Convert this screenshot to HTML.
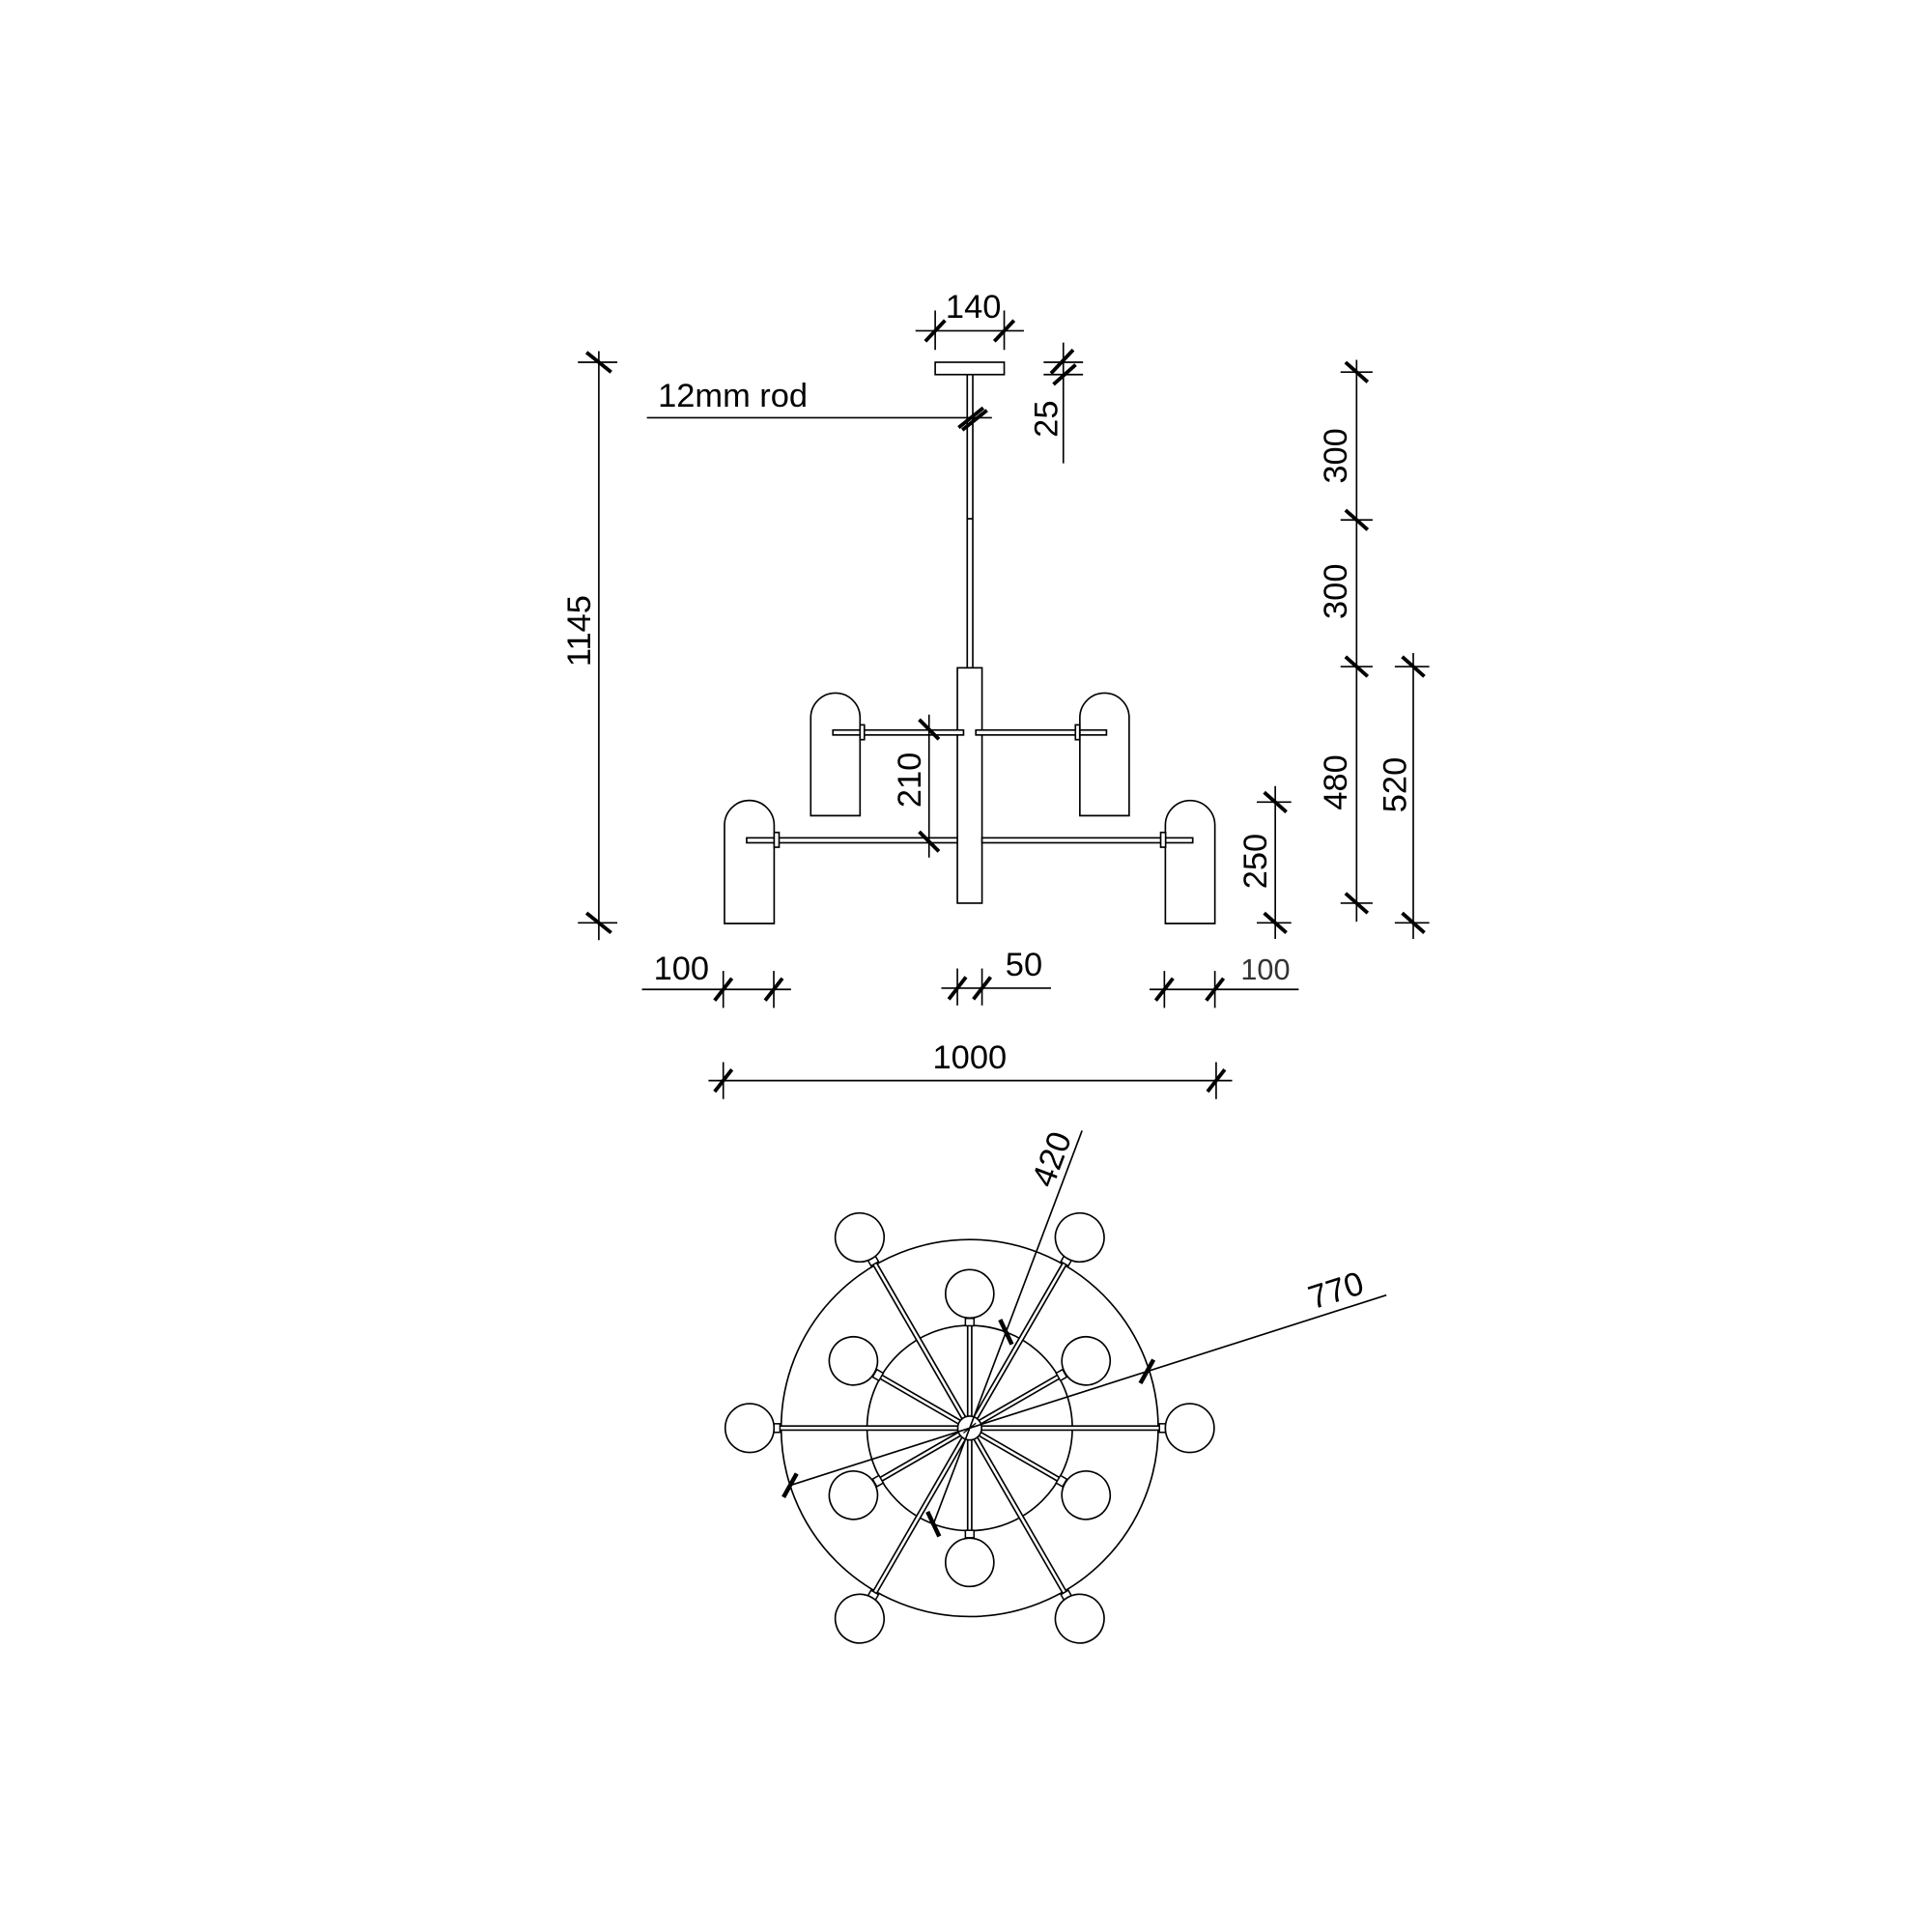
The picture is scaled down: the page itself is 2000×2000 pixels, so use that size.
<!DOCTYPE html>
<html><head><meta charset="utf-8"><style>html,body{margin:0;padding:0;background:#fff}svg{display:block}</style></head>
<body>
<svg xmlns="http://www.w3.org/2000/svg" width="2000" height="2000" viewBox="0 0 1568 1568">
<rect width="1568" height="1568" fill="#fff"/>
<g fill="none" stroke="#000" stroke-width="1.3">
<rect x="759" y="294" width="56" height="10"/>
<line x1="785" y1="304" x2="785" y2="542"/><line x1="789.5" y1="304" x2="789.5" y2="542"/>
<line x1="785" y1="421" x2="789.5" y2="421"/>
<rect x="777" y="542" width="20" height="191" fill="#fff"/>
<rect x="676" y="592.5" width="106" height="4" fill="#fff"/>
<rect x="792" y="592.5" width="106" height="4" fill="#fff"/>
<rect x="606" y="680" width="171" height="4" fill="#fff"/>
<rect x="797" y="680" width="171" height="4" fill="#fff"/>
<path d="M658 662 V582.5 A20 20 0 0 1 698 582.5 V662 Z"/>
<path d="M876.4 662 V582.5 A20 20 0 0 1 916.4 582.5 V662 Z"/>
<path d="M588 749.5 V669.8 A20.15 20.15 0 0 1 628.3 669.8 V749.5 Z"/>
<path d="M945.8 749.5 V669.8 A20.1 20.1 0 0 1 986 669.8 V749.5 Z"/>
<rect x="698" y="588.3" width="3.5" height="12" fill="#fff"/>
<rect x="872.8" y="588.3" width="3.5" height="12" fill="#fff"/>
<rect x="628.3" y="675.6" width="4" height="12" fill="#fff"/>
<rect x="942" y="675.6" width="4" height="12" fill="#fff"/>

<line x1="486" y1="285" x2="486" y2="763"/>
<line x1="469" y1="294" x2="501" y2="294"/><line x1="469" y1="749" x2="501" y2="749"/>
<line x1="525" y1="339" x2="805" y2="339"/>
<line x1="743" y1="268.5" x2="831" y2="268.5"/>
<line x1="759" y1="252" x2="759" y2="284"/><line x1="815" y1="252" x2="815" y2="284"/>
<line x1="863" y1="278" x2="863" y2="376"/>
<line x1="847" y1="294" x2="879" y2="294"/><line x1="847" y1="304" x2="879" y2="304"/>
<line x1="754" y1="580" x2="754" y2="696"/>
<line x1="1101" y1="292" x2="1101" y2="748"/>
<line x1="1088" y1="302" x2="1114" y2="302"/><line x1="1088" y1="422" x2="1114" y2="422"/>
<line x1="1088" y1="541" x2="1114" y2="541"/><line x1="1088" y1="733" x2="1114" y2="733"/>
<line x1="1147" y1="530" x2="1147" y2="762"/>
<line x1="1132" y1="541" x2="1160" y2="541"/><line x1="1132" y1="749" x2="1160" y2="749"/>
<line x1="1035" y1="638" x2="1035" y2="762"/>
<line x1="1020" y1="651" x2="1048" y2="651"/><line x1="1020" y1="749" x2="1048" y2="749"/>
<line x1="521" y1="803" x2="642" y2="803"/>
<line x1="587" y1="788" x2="587" y2="818"/><line x1="628" y1="788" x2="628" y2="818"/>
<line x1="764" y1="802" x2="853" y2="802"/>
<line x1="777" y1="786" x2="777" y2="816"/><line x1="797" y1="786" x2="797" y2="816"/>
<line x1="933" y1="803" x2="1054" y2="803"/>
<line x1="945" y1="788" x2="945" y2="818"/><line x1="986" y1="788" x2="986" y2="818"/>
<line x1="575" y1="877" x2="1000" y2="877"/>
<line x1="587" y1="862" x2="587" y2="892"/><line x1="987" y1="862" x2="987" y2="892"/>
</g>
<g stroke="#000" stroke-width="3" fill="none">
<line x1="476" y1="286" x2="496" y2="302"/><line x1="476" y1="741" x2="496" y2="757"/>
<line x1="778" y1="347" x2="798" y2="331"/><line x1="781" y1="349" x2="801" y2="333"/>
<line x1="751" y1="277" x2="767" y2="260"/><line x1="807" y1="277" x2="823" y2="260"/>
<line x1="853" y1="303" x2="871" y2="284"/><line x1="855" y1="312" x2="873" y2="296"/>
<line x1="746" y1="584" x2="762" y2="600"/><line x1="746" y1="675" x2="762" y2="691"/>
<line x1="1092" y1="294" x2="1110" y2="310"/><line x1="1092" y1="414" x2="1110" y2="430"/>
<line x1="1092" y1="533" x2="1110" y2="549"/><line x1="1092" y1="725" x2="1110" y2="741"/>
<line x1="1138" y1="533" x2="1156" y2="549"/><line x1="1138" y1="741" x2="1156" y2="757"/>
<line x1="1026" y1="643" x2="1044" y2="659"/><line x1="1026" y1="741" x2="1044" y2="757"/>
<line x1="580" y1="812" x2="594" y2="794"/><line x1="621" y1="812" x2="635" y2="794"/>
<line x1="770" y1="811" x2="784" y2="793"/><line x1="790" y1="811" x2="804" y2="793"/>
<line x1="938" y1="812" x2="952" y2="794"/><line x1="979" y1="812" x2="993" y2="794"/>
<line x1="580" y1="886" x2="594" y2="868"/><line x1="980" y1="886" x2="994" y2="868"/>
</g>
<g font-family="'Liberation Sans', sans-serif" font-size="27" fill="#000">
<text x="534" y="330">12mm rod</text>
<text x="790" y="258" text-anchor="middle">140</text>
<text x="787" y="867" text-anchor="middle">1000</text>
<text x="553" y="795" text-anchor="middle">100</text>
<text x="831" y="792" text-anchor="middle">50</text>
<text x="1027" y="795" text-anchor="middle" font-size="24" fill="#333">100</text>
<text transform="translate(479,512) rotate(-90)" text-anchor="middle">1145</text>
<text transform="translate(858,340) rotate(-90)" text-anchor="middle">25</text>
<text transform="translate(747,633) rotate(-90)" text-anchor="middle">210</text>
<text transform="translate(1093,370) rotate(-90)" text-anchor="middle">300</text>
<text transform="translate(1093,480) rotate(-90)" text-anchor="middle">300</text>
<text transform="translate(1093,635) rotate(-90)" text-anchor="middle">480</text>
<text transform="translate(1141,637) rotate(-90)" text-anchor="middle">520</text>
<text transform="translate(1028,699) rotate(-90)" text-anchor="middle">250</text>
<text transform="translate(862,944) rotate(-69.3)" text-anchor="middle">420</text>
<text transform="translate(1087,1056) rotate(-17.7)" text-anchor="middle">770</text>
</g>
<g fill="none" stroke="#000" stroke-width="1.3">
<circle cx="787" cy="1159" r="153"/>
<circle cx="787" cy="1159" r="83.3"/>
</g>
<g transform="translate(787,1159)">
<g id="oa">
<line x1="8" y1="0" x2="155" y2="0" stroke="#000" stroke-width="4.6"/>
<line x1="8" y1="0" x2="154" y2="0" stroke="#fff" stroke-width="2"/>
<rect x="154" y="-3.5" width="5" height="7" fill="#fff" stroke="#000" stroke-width="1.2"/>
<circle cx="178.6" cy="0" r="19.8" fill="#fff" stroke="#000" stroke-width="1.3"/>
</g>
<use href="#oa" transform="rotate(-60)"/>
<use href="#oa" transform="rotate(-120)"/>
<use href="#oa" transform="rotate(-180)"/>
<use href="#oa" transform="rotate(-240)"/>
<use href="#oa" transform="rotate(-300)"/>
<g id="ia" transform="rotate(-30)">
<line x1="8" y1="0" x2="85" y2="0" stroke="#000" stroke-width="4.6"/>
<line x1="8" y1="0" x2="84" y2="0" stroke="#fff" stroke-width="2"/>
<rect x="83" y="-3.5" width="6" height="7" fill="#fff" stroke="#000" stroke-width="1.2"/>
<circle cx="109" cy="0" r="19.6" fill="#fff" stroke="#000" stroke-width="1.3"/>
</g>
<use href="#ia" transform="rotate(-60)"/>
<use href="#ia" transform="rotate(-120)"/>
<use href="#ia" transform="rotate(-180)"/>
<use href="#ia" transform="rotate(-240)"/>
<use href="#ia" transform="rotate(-300)"/>
<circle cx="0" cy="0" r="9.7" fill="#fff" stroke="#000" stroke-width="1.3"/>
<line x1="-5" y1="4" x2="5" y2="-4" stroke="#000" stroke-width="1"/>
<g transform="rotate(-69.3)">
<line x1="-83.3" y1="0" x2="258" y2="0" stroke="#000" stroke-width="1.3"/>
<line x1="91" y1="-8" x2="75.6" y2="8" stroke="#000" stroke-width="3.5"/>
<line x1="-75.6" y1="-8" x2="-91" y2="8" stroke="#000" stroke-width="3.5"/>
</g>
<g transform="rotate(-17.7)">
<line x1="-153" y1="0" x2="355" y2="0" stroke="#000" stroke-width="1.3"/>
<line x1="143" y1="7.5" x2="159" y2="-7.5" stroke="#000" stroke-width="3.5"/>
<line x1="-161" y1="7.5" x2="-145" y2="-7.5" stroke="#000" stroke-width="3.5"/>
</g>
</g>
</svg>
</body></html>
